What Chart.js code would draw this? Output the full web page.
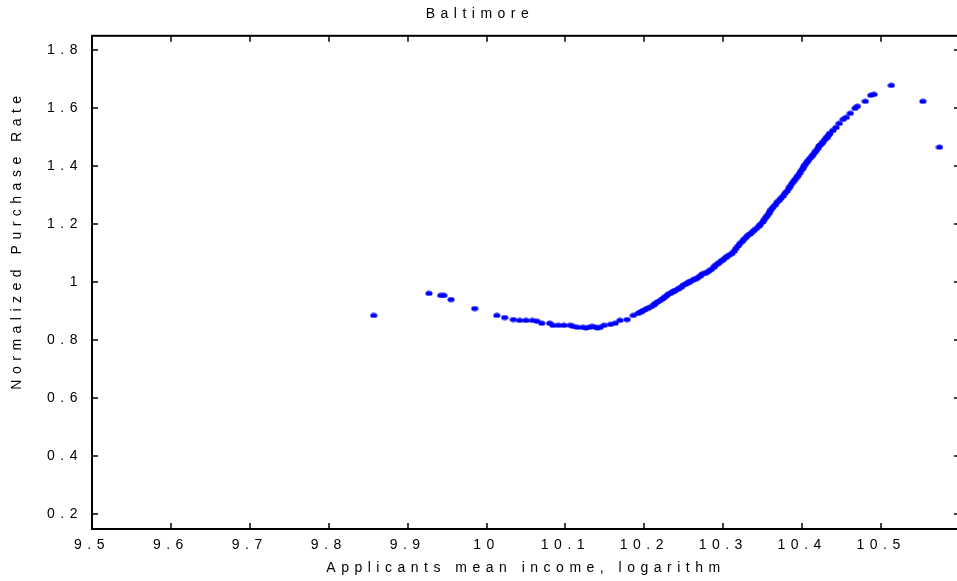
<!DOCTYPE html>
<html>
<head>
<meta charset="utf-8">
<script src="https://cdn.jsdelivr.net/npm/chart.js@4.4.1/dist/chart.umd.min.js"></script>
<style>
  html, body { margin: 0; padding: 0; background: #fff; overflow: hidden; }
  #wrap { width: 970px; height: 581px; }
</style>
</head>
<body>
<div id="wrap"><canvas id="myChart" width="970" height="581"></canvas></div>
<script>
// labels
const chartTitle = "Baltimore";
const xTitle = "Applicants mean income, logarithm";
const yTitle = "Normalized Purchase Rate";

// tick values
const xTicks = [9.5, 9.6, 9.7, 9.8, 9.9, 10, 10.1, 10.2, 10.3, 10.4, 10.5];
const yTicks = [0.2, 0.4, 0.6, 0.8, 1, 1.2, 1.4, 1.6, 1.8];

// points
const incomeLog = [
  9.857, 9.927, 9.942, 9.946, 9.955, 9.985, 10.013, 10.023, 10.034, 10.042,
  10.050, 10.058, 10.064, 10.070, 10.080, 10.084, 10.091, 10.098, 10.106, 10.115,
  10.122, 10.130, 10.138, 10.144, 10.149, 10.157, 10.163, 10.169, 10.178, 10.186,
  10.192, 10.197, 10.203, 10.209, 10.214, 10.220, 10.225, 10.230, 10.235, 10.239,
  10.244, 10.249, 10.254, 10.258, 10.263, 10.268, 10.273, 10.279, 10.285, 10.290,
  10.295, 10.300, 10.305, 10.311, 10.316, 10.321, 10.326, 10.331, 10.336, 10.342,
  10.347, 10.352, 10.356, 10.359, 10.363, 10.368, 10.373, 10.378, 10.383, 10.387,
  10.391, 10.395, 10.399, 10.402, 10.406, 10.410, 10.414, 10.418, 10.421, 10.425,
  10.429, 10.432, 10.435, 10.439, 10.443, 10.447, 10.452, 10.456, 10.461, 10.467,
  10.470, 10.480, 10.487, 10.491, 10.513, 10.553, 10.574
];
const purchaseRate = [
  0.886, 0.962, 0.955, 0.955, 0.941, 0.910, 0.886, 0.879, 0.872, 0.869,
  0.869, 0.869, 0.866, 0.859, 0.859, 0.852, 0.852, 0.852, 0.852, 0.845,
  0.845, 0.845, 0.845, 0.845, 0.852, 0.855, 0.859, 0.869, 0.872, 0.886,
  0.893, 0.900, 0.910, 0.917, 0.928, 0.938, 0.948, 0.959, 0.966, 0.972,
  0.979, 0.990, 0.997, 1.003, 1.010, 1.017, 1.028, 1.034, 1.045, 1.059,
  1.069, 1.079, 1.090, 1.100, 1.117, 1.134, 1.148, 1.162, 1.172, 1.186,
  1.200, 1.217, 1.231, 1.245, 1.259, 1.276, 1.290, 1.307, 1.324, 1.341,
  1.355, 1.369, 1.386, 1.400, 1.414, 1.428, 1.441, 1.455, 1.469, 1.479,
  1.493, 1.503, 1.514, 1.524, 1.534, 1.548, 1.562, 1.569, 1.583, 1.600,
  1.607, 1.624, 1.645, 1.648, 1.679, 1.624, 1.466
];

// extra points in the dense band (10.1 - 10.44)
const bandIncomeLog = [
  10.110, 10.126, 10.134, 10.141,
  10.195, 10.200, 10.206, 10.212, 10.217, 10.223, 10.228, 10.233, 10.237, 10.242,
  10.247, 10.252, 10.256, 10.261, 10.266, 10.271, 10.276, 10.282, 10.288, 10.293,
  10.298, 10.303, 10.308, 10.314, 10.319, 10.324, 10.329, 10.334, 10.339, 10.345,
  10.350, 10.354, 10.358, 10.361, 10.366, 10.371, 10.376, 10.381, 10.385, 10.389,
  10.393, 10.397, 10.401, 10.404, 10.408, 10.412, 10.416, 10.420, 10.423, 10.427,
  10.431, 10.434
];
const bandRate = [
  0.848, 0.843, 0.848, 0.843,
  0.897, 0.905, 0.913, 0.922, 0.933, 0.943, 0.953, 0.962, 0.969, 0.976,
  0.984, 0.993, 1.000, 1.007, 1.013, 1.022, 1.031, 1.040, 1.052, 1.064,
  1.074, 1.085, 1.095, 1.108, 1.126, 1.141, 1.155, 1.167, 1.179, 1.193,
  1.208, 1.224, 1.238, 1.252, 1.267, 1.283, 1.298, 1.315, 1.332, 1.348,
  1.362, 1.377, 1.393, 1.407, 1.421, 1.434, 1.448, 1.462, 1.474, 1.486,
  1.498, 1.509
];

const points = incomeLog.map((x, i) => ({ x: x, y: purchaseRate[i] }))
  .concat(bandIncomeLog.map((x, i) => ({ x: x, y: bandRate[i] })));

const fontFamily = '"Liberation Sans", Arial, sans-serif';
const spacing = '5.5px';

// small flat ellipse used as marker
const dot = document.createElement('canvas');
dot.width = 8;
dot.height = 6;
const dctx = dot.getContext('2d');
dctx.fillStyle = '#0000ff';
dctx.beginPath();
dctx.ellipse(4, 3, 3.6, 2.5, 0, 0, Math.PI * 2);
dctx.fill();

// box + inward ticks + rotated y title
const framePlugin = {
  id: 'frame',
  beforeDraw(chart) {
    chart.ctx.letterSpacing = spacing;
  },
  afterDraw(chart) {
    const ctx = chart.ctx;
    const a = chart.chartArea;
    const x = chart.scales.x;
    const y = chart.scales.y;
    ctx.save();
    ctx.strokeStyle = '#000';
    ctx.lineWidth = 2;
    ctx.strokeRect(a.left, a.top, a.right - a.left, a.bottom - a.top);
    ctx.lineWidth = 1.5;
    ctx.beginPath();
    xTicks.forEach(v => {
      const px = Math.round(x.getPixelForValue(v));
      ctx.moveTo(px, a.bottom);
      ctx.lineTo(px, a.bottom - 6);
      ctx.moveTo(px, a.top);
      ctx.lineTo(px, a.top + 6);
    });
    yTicks.forEach(v => {
      const py = Math.round(y.getPixelForValue(v));
      ctx.moveTo(a.left, py);
      ctx.lineTo(a.left + 6, py);
      ctx.moveTo(a.right, py);
      ctx.lineTo(a.right - 6, py);
    });
    ctx.stroke();

    ctx.translate(17, 240);
    ctx.rotate(-Math.PI / 2);
    ctx.font = '14px ' + fontFamily;
    ctx.fillStyle = '#000';
    ctx.textAlign = 'center';
    ctx.textBaseline = 'middle';
    ctx.fillText(yTitle, 0, 0);
    ctx.restore();
  }
};

const ctx = document.getElementById('myChart').getContext('2d');
const myChart = new Chart(ctx, {
  type: 'scatter',
  data: {
    datasets: [{
      label: 'Baltimore',
      data: points,
      pointStyle: dot,
      pointRadius: 3,
      pointHoverRadius: 3
    }]
  },
  options: {
    responsive: false,
    animation: false,
    devicePixelRatio: 1,
    layout: { padding: { top: 0, right: 10, bottom: 0, left: 0 } },
    plugins: {
      legend: { display: false },
      tooltip: { enabled: false },
      title: {
        display: true,
        text: chartTitle,
        color: '#000',
        font: { family: fontFamily, size: 14, weight: 'normal' },
        padding: { top: 6, bottom: 13 }
      }
    },
    scales: {
      x: {
        type: 'linear',
        min: 9.5,
        max: 10.6,
        afterBuildTicks: s => { s.ticks = xTicks.map(v => ({ value: v })); },
        afterFit: s => { s.height = 52; },
        grid: { display: false, drawTicks: false },
        border: { display: false },
        ticks: {
          autoSkip: false,
          maxRotation: 0,
          padding: 8,
          color: '#000',
          font: { family: fontFamily, size: 14 },
          callback: v => String(Math.round(v * 10) / 10)
        },
        title: {
          display: true,
          text: xTitle,
          color: '#000',
          font: { family: fontFamily, size: 14 },
          padding: { top: 0, bottom: 4 }
        }
      },
      y: {
        min: 0.15,
        max: 1.85,
        afterBuildTicks: s => { s.ticks = yTicks.map(v => ({ value: v })); },
        afterFit: s => { s.width = 92; },
        grid: { display: false, drawTicks: false },
        border: { display: false },
        ticks: {
          padding: 9,
          color: '#000',
          font: { family: fontFamily, size: 14 },
          callback: v => String(Math.round(v * 10) / 10)
        }
      }
    }
  },
  plugins: [framePlugin]
});
</script>
</body>
</html>
